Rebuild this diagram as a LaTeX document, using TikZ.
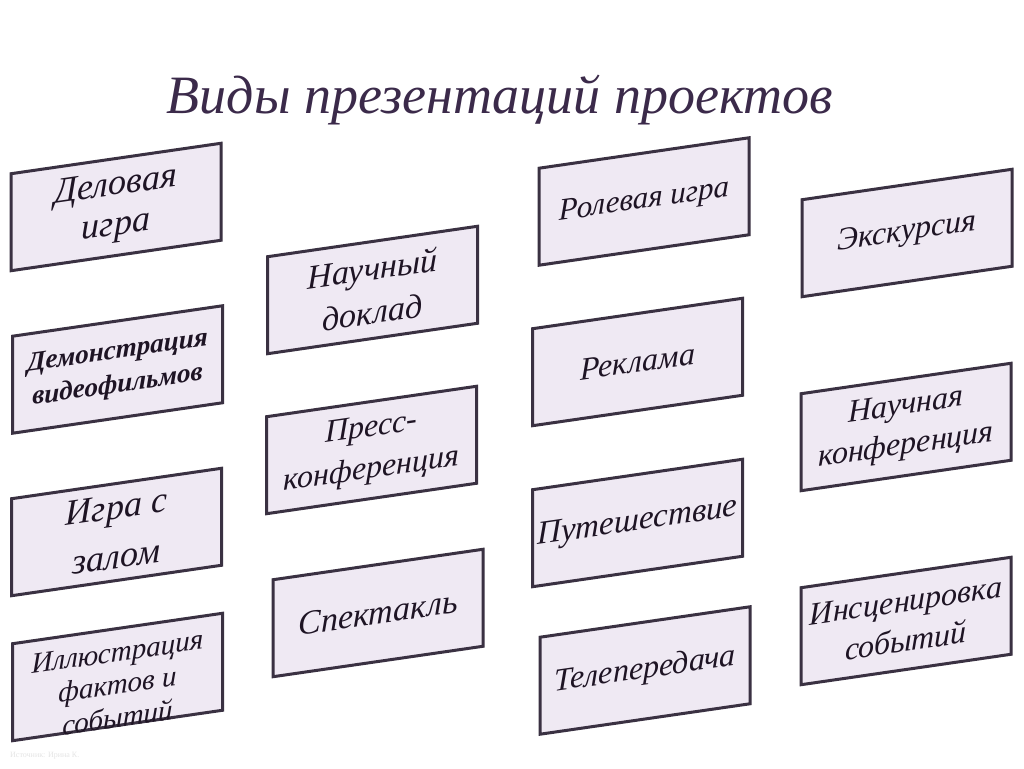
\documentclass[tikz,border=0pt]{standalone}
\usepackage{fontspec}
\setmainfont{Liberation Serif}
\definecolor{boxfill}{HTML}{EFE9F3}
\definecolor{boxline}{HTML}{3A3142}
\definecolor{titlecol}{HTML}{3B2A4A}
\definecolor{txtcol}{HTML}{1E1424}
\tikzset{
  pbox/.style={draw=boxline, line width=3pt, fill=boxfill, minimum width=210pt, minimum height=97pt, inner sep=0pt, transform shape},
  ptext/.style={text=txtcol, align=center, inner sep=0pt, transform shape, font=\itshape\fontsize{32}{40}\selectfont},
}
\newcommand\pbox[5]{%
  \begin{scope}[shift={({#2},{768-#3})}, yslant=0.145]
    \node[pbox] (#1) at (0,0) {};
    \node[ptext,#4] (#1-t) at (#1.center) {#5};
  \end{scope}}
\begin{document}
\begin{tikzpicture}[x=1pt,y=1pt]
\useasboundingbox[fill=white] (0,0) rectangle (1024,768);
\node[text=titlecol, font=\itshape\fontsize{54}{60}\selectfont, inner sep=0pt] (title) at (500,668) {Виды презентаций проектов};
% column 1
\pbox{b1}{116}{207}{font=\itshape\fontsize{36}{40}\selectfont}{Деловая\\игра}
\pbox{b2}{117.5}{369.5}{font=\bfseries\itshape\fontsize{27}{34}\selectfont}{Демонстрация\\видеофильмов}
\pbox{b3}{116.5}{532}{font=\itshape\fontsize{36}{50}\selectfont}{Игра с\\залом}
\pbox{b4}{117.5}{677}{yshift=-8pt, font=\itshape\fontsize{29}{33}\selectfont}{Иллюстрация\\фактов и\\событий}
% column 2
\pbox{b5}{372.5}{290}{font=\itshape\fontsize{34}{44}\selectfont}{Научный\\доклад}
\pbox{b6}{371.5}{450}{font=\itshape\fontsize{32}{42}\selectfont}{Пресс-\\конференция}
\pbox{b7}{378}{613}{font=\itshape\fontsize{34}{40}\selectfont}{Спектакль}
% column 3
\pbox{b8}{644}{201.5}{font=\itshape\fontsize{31}{40}\selectfont}{Ролевая игра}
\pbox{b9}{637.5}{362}{}{Реклама}
\pbox{b10}{637.5}{523}{font=\itshape\fontsize{33}{40}\selectfont}{Путешествие}
\pbox{b11}{645}{670.5}{}{Телепередача}
% column 4
\pbox{b12}{907}{233}{}{Экскурсия}
\pbox{b13}{906}{427}{}{Научная\\конференция}
\pbox{b14}{906}{621}{}{Инсценировка\\событий}
\node[text=black!10, font=\fontsize{8}{9}\selectfont, anchor=west, inner sep=0pt] (src) at (10,12) {Источник: Ирина К.};
\end{tikzpicture}
\end{document}
